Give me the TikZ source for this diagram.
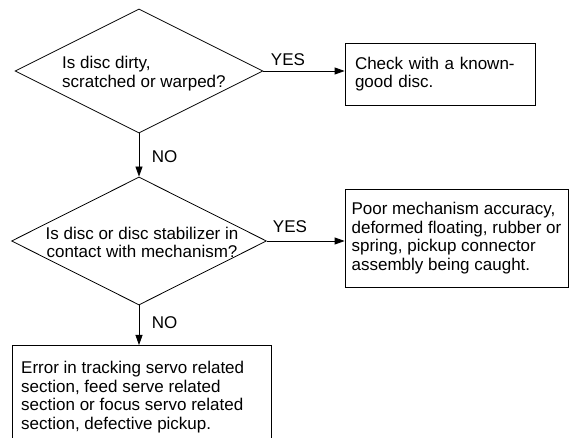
\documentclass[tikz,border=0pt]{standalone}
\usepackage{fontspec}
\setmainfont{Liberation Sans}
\usetikzlibrary{shapes.geometric,arrows.meta}
\begin{document}
\begin{tikzpicture}[x=1pt,y=1pt,
  every node/.style={font=\fontsize{17}{18.5}\selectfont},
  dec/.style={diamond, draw, line width=0.8pt, inner sep=0pt},
  box/.style={rectangle, draw, line width=0.8pt},
  arr/.style={line width=0.8pt, -{Triangle[length=10pt,width=7pt]}},
  lbl/.style={inner sep=0pt}]
\useasboundingbox (0,0) rectangle (572,438);
\clip (0,0) rectangle (572,438);
% decisions
\node[dec, minimum width=248pt, minimum height=124pt] (d1) at (139,367) {};
\node[lbl, anchor=west, align=left] (t1) at (62,364.5) {Is disc dirty,\\scratched or warped?};
\node[dec, minimum width=255pt, minimum height=128pt] (d2) at (139,197) {};
\node[lbl, align=center] (t2) at (142,195.5) {Is disc or disc stabilizer in\\contact with mechanism?};
% boxes
\node[box, minimum width=190pt, minimum height=62pt, text width=170pt, inner xsep=10pt, align=left] (b1) at (440,364) {Check with a known-\\good disc.};
\node[box, minimum width=223pt, minimum height=98pt, align=left] (b2) at (456.5,200) {Poor mechanism accuracy,\\deformed floating, rubber or\\spring, pickup connector\\assembly being caught.};
\node[box, minimum width=259pt, minimum height=130pt, anchor=north] (b3) at (141.5,93) {};
\node[lbl, anchor=north west, align=left] (t3) at (21,77) {Error in tracking servo related\\section, feed serve related\\section or focus servo related\\section, defective pickup.};
% connectors
\draw[arr] (d1.east) -- (d1.east -| b1.west);
\draw[arr] (d2.east) -- (d2.east -| b2.west);
\draw[arr] (d1.south) -- (d2.north);
\draw[arr] (d2.south) -- (d2.south |- b3.north);
% labels
\node[lbl] (y1) at (288,378) {YES};
\node[lbl] (y2) at (290,211) {YES};
\node[lbl] (n1) at (164.5,281) {NO};
\node[lbl] (n2) at (164.5,115) {NO};
\end{tikzpicture}
\end{document}
